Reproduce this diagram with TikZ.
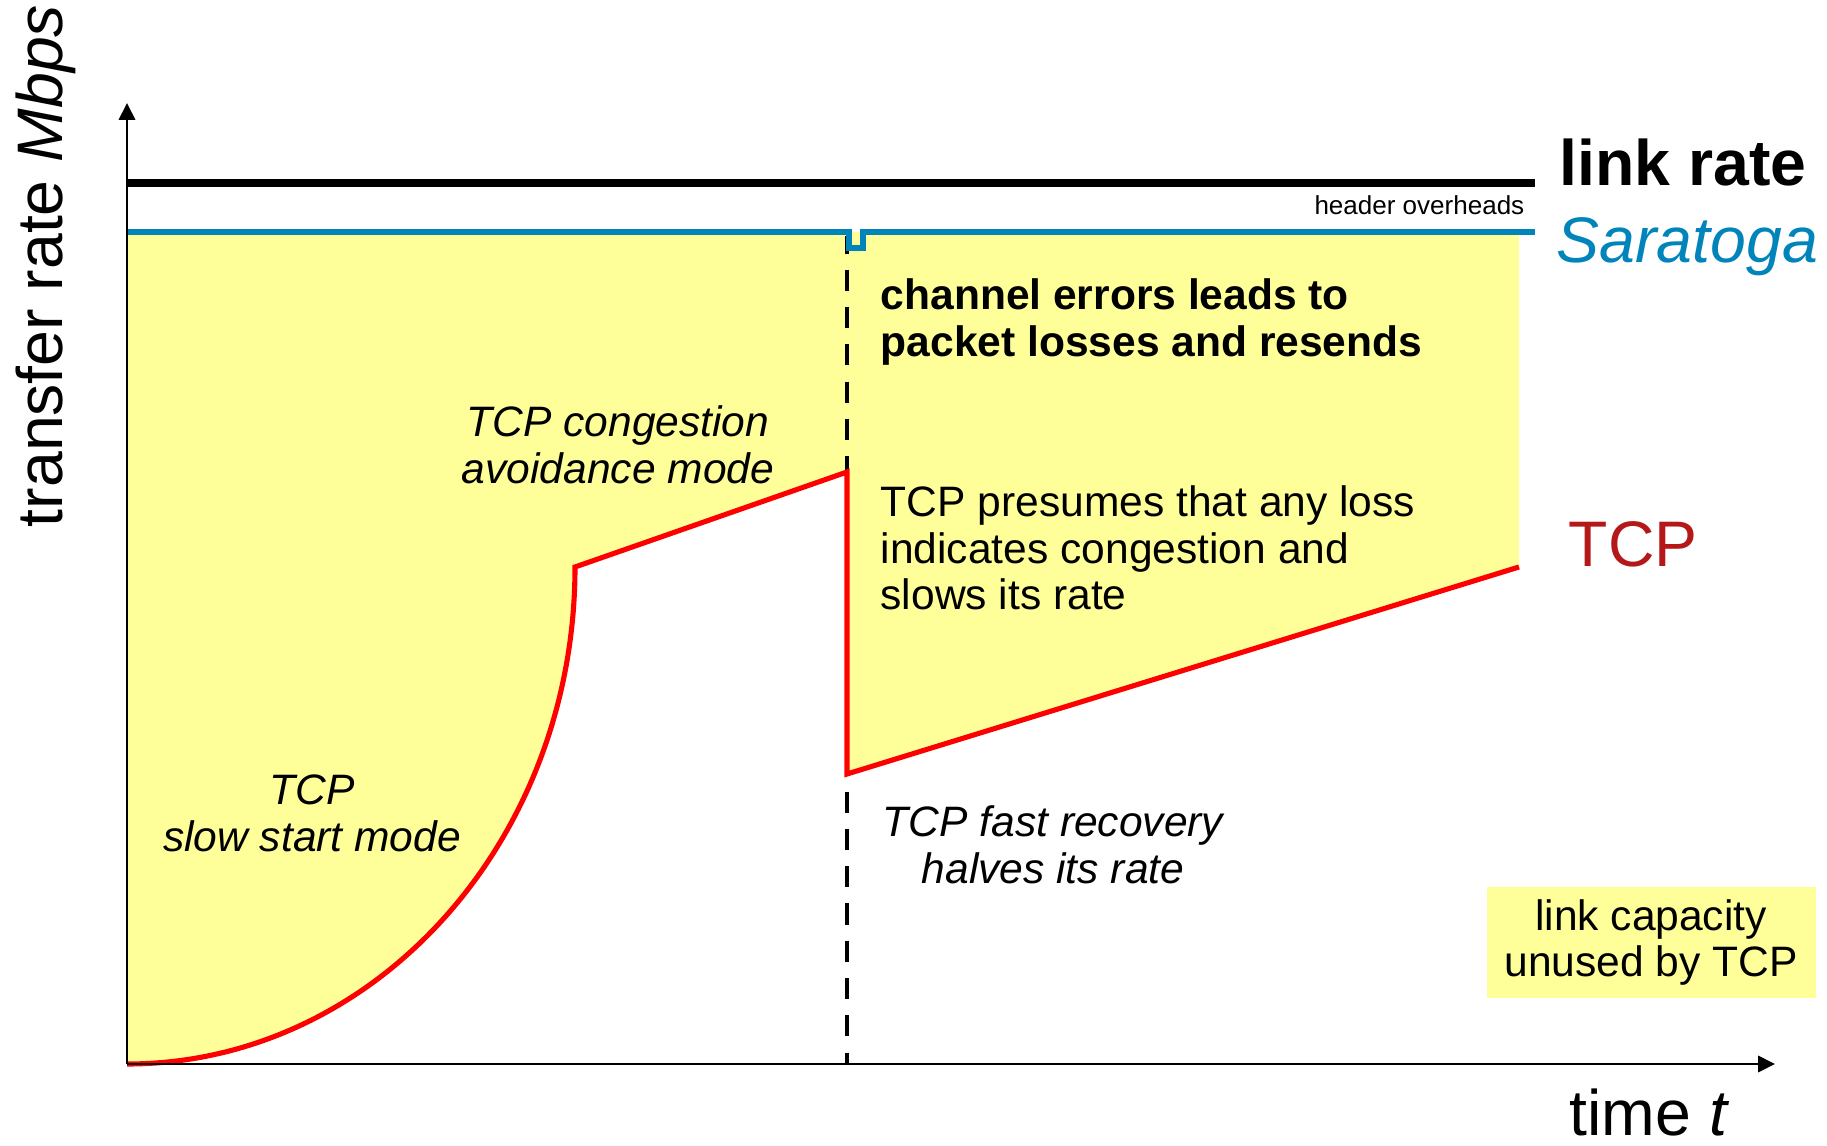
\documentclass[tikz,border=0pt]{standalone}
\usepackage{fontspec}
\setmainfont{Liberation Sans}
\usetikzlibrary{arrows.meta}

\definecolor{fillyellow}{RGB}{255,255,153}
\definecolor{saratogablue}{RGB}{0,132,186}
\definecolor{tcpred}{RGB}{255,0,0}
\definecolor{tcplabel}{RGB}{180,24,24}

\tikzset{
  axis/.style={line width=0.8pt, -{Triangle[length=4.8pt,width=4.6pt]}},
  biglabel/.style={font=\fontsize{18.3}{22}\selectfont, inner sep=0pt},
  midtext/.style={font=\fontsize{12.1}{13.3}\selectfont, inner sep=0pt},
  smalltext/.style={font=\fontsize{7.4}{9}\selectfont, inner sep=0pt},
  rateline/.style={line width=1.45pt, draw=tcpred},
}

\begin{document}
\begin{tikzpicture}[x=0.01cm, y=-0.01cm]
\useasboundingbox (0,0) rectangle (1827,1146);

% corner points of the TCP rate curve
\coordinate (origin) at (127,1064);
\coordinate (ssend) at (575,567);
\coordinate (capeak) at (847,472);
\coordinate (halved) at (847,774);
\coordinate (tcpend) at (1519,567);

% unused capacity between the Saratoga rate and the TCP rate
\fill[fillyellow] (127,232) -- (1519,232) -- (tcpend) -- (halved) -- (capeak)
  -- (ssend) .. controls (575,841.5) and (374.4,1064) .. (origin) -- cycle;

% moment of the channel error
\coordinate (errtop) at (847,236);
\coordinate (errbot) at (847,1064);
\draw[line width=1.35pt, dash pattern=on 6pt off 4.6pt, dash phase=1pt] (errtop) -- (errbot);

% link rate and Saratoga rate
\coordinate (linkL) at (127,183);
\coordinate (linkR) at (1535,183);
\draw[line width=2.2pt] (linkL) -- (linkR);
\coordinate (saraL) at (127,232);
\coordinate (saraR) at (1535,232);
\draw[line width=1.7pt, draw=saratogablue] (saraL) -- (849,232) -- (849,248)
  -- (863,248) -- (863,232) -- (saraR);

% TCP rate
\draw[rateline] (origin) .. controls (374.4,1064) and (575,841.5) .. (ssend)
  -- (capeak) -- (halved) -- (tcpend);

% axes
\coordinate (ytop) at (127,103);
\coordinate (xend) at (1775,1064);
\draw[axis] (origin) -- (ytop);
\draw[axis] (origin) -- (xend);

% labels
\node[biglabel, anchor=base west, font=\fontsize{18.3}{22}\selectfont\bfseries] (linkrate) at (1559,186) {link rate};
\node[biglabel, anchor=base west, text=saratogablue, font=\fontsize{18.3}{22}\selectfont\itshape] (saratoga) at (1556,263) {Saratoga};
\node[biglabel, anchor=base west, text=tcplabel] (tcp) at (1568,567) {TCP};
\node[smalltext, anchor=base east] (overheads) at (1525,215) {header overheads};

\node[midtext, anchor=west, align=left, font=\fontsize{12.1}{13.3}\selectfont\bfseries] (errors) at (880,322)
  {channel errors leads to\\packet losses and resends};
\node[midtext, anchor=west, align=left] (presumes) at (880,548)
  {TCP presumes that any loss\\indicates congestion and\\slows its rate};
\node[midtext, align=center, font=\fontsize{12.1}{13.3}\selectfont\itshape] (avoid) at (618,445)
  {TCP congestion\\avoidance mode};
\node[midtext, align=center, font=\fontsize{12.1}{13.3}\selectfont\itshape] (slowstart) at (312,813)
  {TCP\\slow start mode};
\node[midtext, align=center, font=\fontsize{12.1}{13.3}\selectfont\itshape] (recovery) at (1053,845)
  {TCP fast recovery\\halves its rate};

\node[midtext, fill=fillyellow, minimum width=329*0.01cm, minimum height=111*0.01cm, align=center] (legend) at (1651,942.5)
  {link capacity\\unused by TCP};

\node[biglabel, anchor=base west] (xlabel) at (1569,1135) {time \textit{t}};
\node[biglabel, anchor=base, rotate=90] (ylabel) at (62,266) {transfer rate \textit{Mbps}};
\end{tikzpicture}
\end{document}
